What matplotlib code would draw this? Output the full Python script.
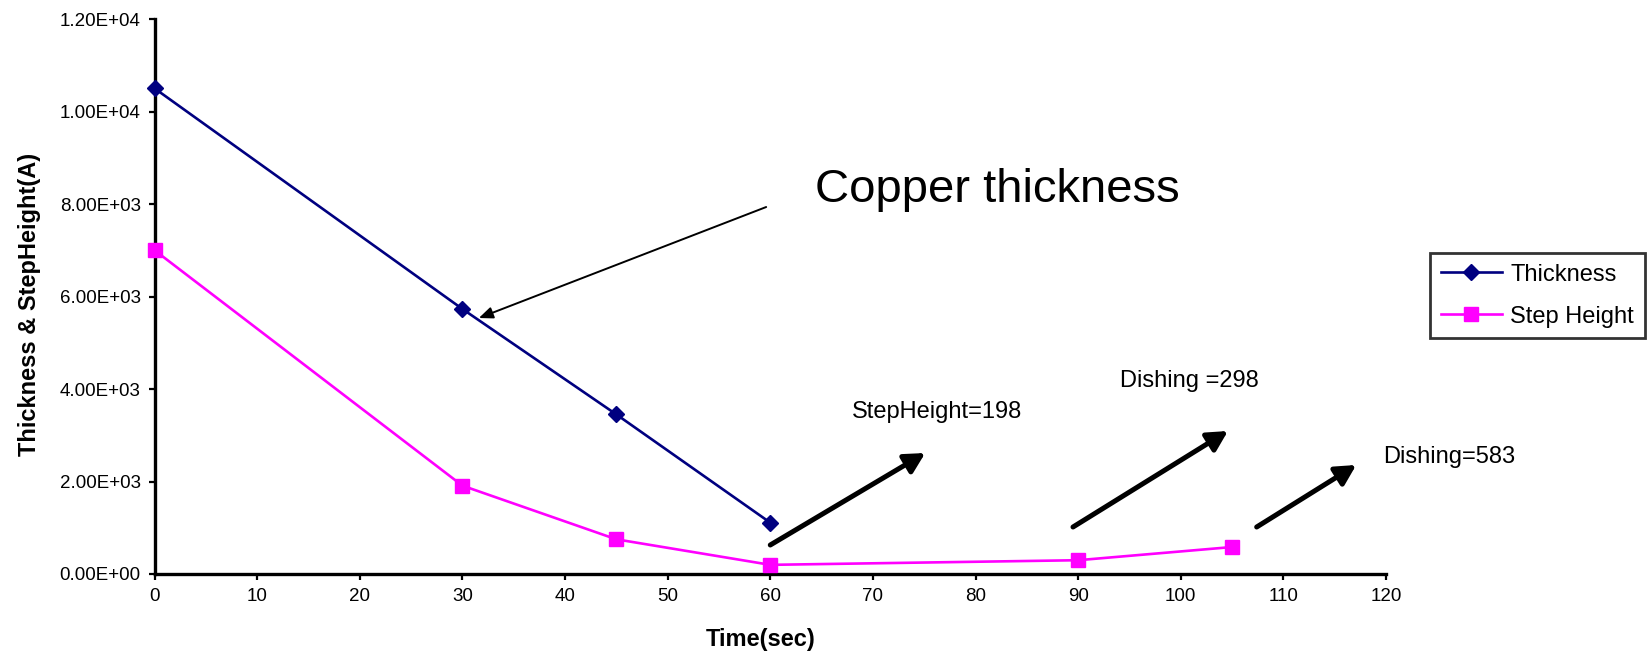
import matplotlib
matplotlib.use("Agg")
import matplotlib.pyplot as plt
from matplotlib.ticker import FuncFormatter

plt.rcParams['font.family'] = ['Liberation Sans', 'DejaVu Sans']

# CMP polish data (Angstrom vs. seconds)
time_thk = [0, 30, 45, 60]
thickness = [10500, 5730, 3450, 1110]
time_step = [0, 30, 45, 60, 90, 105]
step_height = [7000, 1910, 750, 198, 298, 583]

fg = plt.figure(figsize=(16.48, 6.56), dpi=100)
ax = fg.add_axes([0.0938, 0.125, 0.7472, 0.846])

ax.plot(time_thk, thickness, color='#000080', lw=1.9, marker='D', ms=8.5,
        label='Thickness', clip_on=False, zorder=3)
ax.plot(time_step, step_height, color='#FF00FF', lw=1.9, marker='s', ms=10,
        label='Step Height', clip_on=False, zorder=3)

ax.set_xlim(0, 120)
ax.set_ylim(0, 12000)
ax.set_xticks(range(0, 121, 10))
ax.set_yticks(range(0, 12001, 2000))
ax.yaxis.set_major_formatter(FuncFormatter(lambda v, p: '{:.2E}'.format(v)))

for s in ['top', 'right']:
    ax.spines[s].set_visible(False)
for s in ['left', 'bottom']:
    ax.spines[s].set_linewidth(2.4)
ax.tick_params(direction='out', length=4, width=1.6, labelsize=13.5, pad=6)

ax.set_xlabel('Time(sec)', fontsize=17, fontweight='bold')
ax.set_ylabel('Thickness & StepHeight(A)', fontsize=17, fontweight='bold')
ax.xaxis.set_label_coords(0.4925, -0.097)
ax.yaxis.set_label_coords(-0.092, 0.485)

leg = ax.legend(loc='upper left', bbox_to_anchor=(1430 / 1648, 1 - 253 / 656),
                bbox_transform=fg.transFigure, fontsize=17, frameon=True,
                fancybox=False, edgecolor='black', handlelength=2.6,
                handletextpad=0.35, borderpad=0.45, labelspacing=0.85,
                borderaxespad=0)
leg.get_frame().set_linewidth(2.0)

# annotations
thin = dict(arrowstyle='-|>,head_length=0.6,head_width=0.25', color='black',
            lw=1.4, mutation_scale=14, shrinkA=0, shrinkB=0)
thick = dict(arrowstyle='-|>,head_length=0.6,head_width=0.32', color='black',
             lw=3.6, mutation_scale=20, shrinkA=0, shrinkB=0,
             capstyle='round')

ax.annotate('', xy=(31.6, 5535), xytext=(59.6, 7935), arrowprops=thin)
ax.text(64.4, 8303, 'Copper thickness', fontsize=34, va='center', ha='left')

ax.annotate('', xy=(75.1, 2616), xytext=(60.0, 627), arrowprops=thick)
ax.text(68.0, 3500, 'StepHeight={}'.format(step_height[3]), fontsize=17,
        va='center', ha='left')

ax.annotate('', xy=(104.6, 3092), xytext=(89.5, 1016), arrowprops=thick)
ax.text(94.1, 4173, 'Dishing ={}'.format(step_height[4]), fontsize=17,
        va='center', ha='left')

ax.annotate('', xy=(117.1, 2357), xytext=(107.4, 1016), arrowprops=thick,
            annotation_clip=False)
ax.text(119.7, 2530, 'Dishing={}'.format(step_height[5]), fontsize=17,
        va='center', ha='left', clip_on=False)

fg.savefig('out.png', dpi=100)
